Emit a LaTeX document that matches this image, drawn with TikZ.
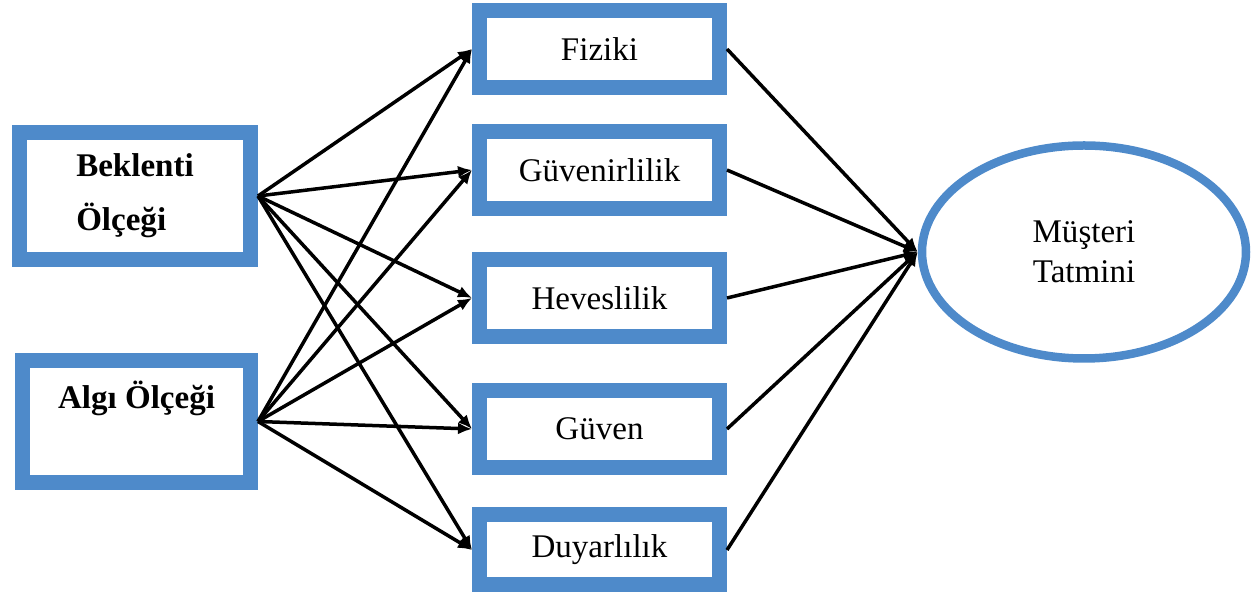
\documentclass[tikz,border=0pt]{standalone}
\usepackage{fontspec}
\setmainfont{Liberation Serif}
\usepackage{tikz}
\usetikzlibrary{arrows.meta, shapes.geometric}
\definecolor{kutumavi}{RGB}{78,138,202}
\tikzset{%
	olcek/.style = { draw=kutumavi, line width=0.3cm, fill=white, inner sep=0pt,
		minimum width=4.62cm, font=\fontsize{18.8}{30.7}\selectfont\bfseries },
	boyut/.style = { draw=kutumavi, line width=0.3cm, fill=white, inner sep=0pt,
		minimum width=4.8cm, minimum height=1.54cm, font=\fontsize{18.8}{22.6}\selectfont },
	tatmin/.style = { ellipse, draw=kutumavi, line width=0.17cm, inner sep=0pt,
		minimum width=6.48cm, minimum height=4.26cm, align=center,
		font=\fontsize{18.8}{22.7}\selectfont },
	ok/.style = { black, line width=0.07cm, -{Latex[length=0.28cm, width=0.24cm]} }
}

\begin{document}
\begin{tikzpicture}
	\useasboundingbox (0,0) rectangle (25.02,12.04);

	% ölçekler (sol)
	\node[olcek, minimum height=2.54cm, align=left] (bek) at (2.7,8.12) {Beklenti\\Ölçeği};
	\node[olcek, minimum height=2.44cm, minimum width=4.56cm, align=center] (algi) at (2.73,3.61) {Algı Ölçeği\\\mbox{}};

	% hizmet kalitesi boyutları (orta)
	\node[boyut] (fiz) at (11.99,11.06) {Fiziki};
	\node[boyut] (gvn) at (11.99,8.64) {Güvenirlilik};
	\node[boyut] (hev) at (11.99,6.08) {Heveslilik};
	\node[boyut] (guv) at (11.99,3.46) {Güven};
	\node[boyut, minimum height=1.4cm] (duy) at (11.99,1.04) {Duyarlılık};

	% müşteri tatmini (sağ)
	\node[tatmin] (mt) at (21.68,7.0) {Müşteri\\Tatmini};

	% ölçeklerden boyutlara
	\draw[ok] (bek.east) -- (fiz.west);
	\draw[ok] (bek.east) -- (gvn.west);
	\draw[ok] (bek.east) -- (hev.west);
	\draw[ok] (bek.east) -- (guv.west);
	\draw[ok] (bek.east) -- (duy.west);
	\draw[ok] (algi.east) -- (fiz.west);
	\draw[ok] (algi.east) -- (gvn.west);
	\draw[ok] (algi.east) -- (hev.west);
	\draw[ok] (algi.east) -- (guv.west);
	\draw[ok] (algi.east) -- (duy.west);

	% boyutlardan tatmine
	\draw[ok] (fiz.east) -- (mt.west);
	\draw[ok] (gvn.east) -- (mt.west);
	\draw[ok] (hev.east) -- (mt.west);
	\draw[ok] (guv.east) -- (mt.west);
	\draw[ok] (duy.east) -- (mt.west);
\end{tikzpicture}
\end{document}
